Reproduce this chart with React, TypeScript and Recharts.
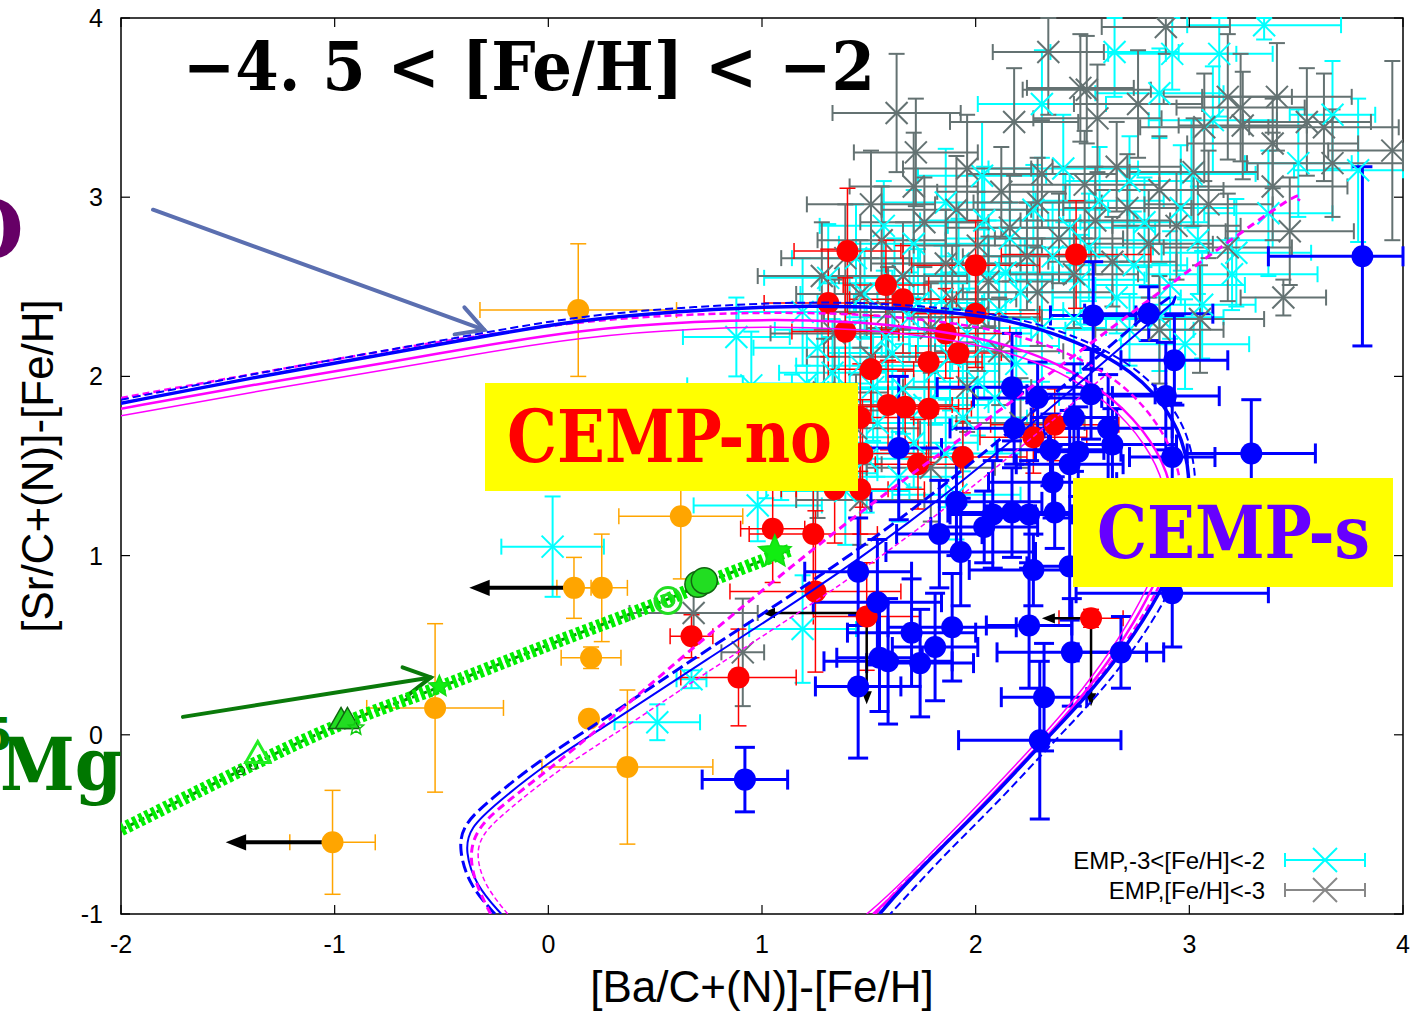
import React from 'react';
import { ScatterChart, Scatter, XAxis, YAxis, ErrorBar, ReferenceLine, ReferenceArea } from 'recharts';

const W = 1427;
const H = 1013;
const PLOT = { left: 121, right: 1403, top: 18, bottom: 914 };
const SANS = "'Liberation Sans', Arial, sans-serif";
const SERIF = "'DejaVu Serif', 'Liberation Serif', serif";

const xTicks = [-2, -1, 0, 1, 2, 3, 4];
const yTicks = [-1, 0, 1, 2, 3, 4];
const X_DOMAIN = [-2, 4];
const Y_DOMAIN = [-1, 4];

// [x, y, xerr, yerr]
const empMid = [
  [3.35, 3.96, 0.36, 0.08], [2.65, 3.81, 0.3, 0.25], [2.92, 3.8, 0.3, 0.2], [3.14, 3.8, 0.25, 0.35],
  [3.51, 3.19, 0.25, 0.3], [3.79, 3.15, 0.3, 0.4], [3.67, 3.46, 0.2, 0.3], [3.37, 2.91, 0.3, 0.35],
  [3.22, 2.69, 0.35, 0.3], [3.2, 2.57, 0.4, 0.2], [3.11, 3.43, 0.3, 0.3], [0.88, 2.22, 0.25, 0.22],
  [0.02, 1.05, 0.24, 0.28], [1.19, 0.59, 0.25, 0.3], [0.51, 0.07, 0.2, 0.1], [0.67, 0.31, 0.07, 0.05],
  [1.86, 2.97, 0.3, 0.3], [2.27, 2.93, 0.35, 0.25], [2.58, 2.98, 0.3, 0.3], [2.96, 2.94, 0.25, 0.35],
  [1.57, 2.84, 0.3, 0.25], [2.04, 2.87, 0.3, 0.3], [2.44, 2.83, 0.4, 0.3], [2.79, 2.86, 0.3, 0.25],
  [1.71, 2.74, 0.35, 0.3], [2.16, 2.77, 0.3, 0.2], [2.53, 2.72, 0.3, 0.3], [3.04, 2.76, 0.35, 0.3],
  [1.44, 2.66, 0.3, 0.3], [1.92, 2.63, 0.35, 0.25], [2.36, 2.67, 0.3, 0.3], [2.74, 2.62, 0.25, 0.3],
  [1.31, 2.55, 0.3, 0.3], [1.62, 2.52, 0.35, 0.25], [2.06, 2.57, 0.3, 0.3], [2.49, 2.54, 0.3, 0.25],
  [2.91, 2.51, 0.35, 0.3], [1.48, 2.46, 0.3, 0.25], [1.84, 2.43, 0.3, 0.3], [2.21, 2.47, 0.35, 0.3],
  [2.66, 2.44, 0.3, 0.2], [1.19, 2.36, 0.3, 0.3], [1.69, 2.33, 0.3, 0.25], [2.11, 2.37, 0.3, 0.3],
  [2.46, 2.32, 0.35, 0.3], [1.41, 2.26, 0.35, 0.3], [1.96, 2.24, 0.3, 0.25], [2.31, 2.27, 0.3, 0.3],
  [1.26, 2.16, 0.3, 0.3], [1.61, 2.13, 0.3, 0.25], [2.04, 2.17, 0.35, 0.3], [1.46, 2.06, 0.3, 0.25],
  [1.81, 2.03, 0.3, 0.3], [2.19, 2.07, 0.3, 0.2], [1.21, 1.96, 0.3, 0.3], [1.66, 1.93, 0.35, 0.25],
  [2.01, 1.97, 0.3, 0.3], [1.36, 1.86, 0.3, 0.3], [1.76, 1.84, 0.3, 0.25], [2.09, 1.88, 0.3, 0.3],
  [1.14, 1.76, 0.3, 0.25], [1.54, 1.74, 0.35, 0.3], [1.94, 1.77, 0.3, 0.3], [1.31, 1.66, 0.3, 0.3],
  [1.71, 1.63, 0.3, 0.25], [1.09, 1.56, 0.3, 0.25], [1.49, 1.54, 0.3, 0.3], [1.86, 1.57, 0.35, 0.3],
  [1.24, 1.46, 0.3, 0.3], [1.64, 1.44, 0.3, 0.25], [1.39, 1.36, 0.3, 0.3], [1.91, 1.34, 0.3, 0.25],
  [2.03, 3.12, 0.3, 0.3], [2.41, 3.16, 0.35, 0.3], [2.72, 3.09, 0.3, 0.25], [3.01, 3.13, 0.3, 0.3],
  [2.31, 3.52, 0.3, 0.3], [2.86, 3.58, 0.3, 0.25], [2.72, 2.26, 0.3, 0.2], [2.98, 2.18, 0.3, 0.25],
  [3.06, 2.4, 0.25, 0.3], [2.86, 2.33, 0.3, 0.3], [0.95, 1.95, 0.3, 0.3], [1.02, 1.62, 0.25, 0.3],
  [0.98, 1.28, 0.3, 0.2], [1.58, 2.22, 0.3, 0.25], [1.88, 2.11, 0.3, 0.3], [1.33, 2.02, 0.25, 0.3],
  [1.73, 2.41, 0.3, 0.3], [2.14, 2.58, 0.3, 0.25], [1.52, 1.94, 0.3, 0.3],
];

const empLow = [
  [2.34, 3.81, 0.26, 0.35], [1.63, 3.47, 0.3, 0.33], [1.72, 3.25, 0.29, 0.3], [2.89, 3.95, 0.3, 0.15],
  [2.49, 3.61, 0.25, 0.3], [2.18, 3.42, 0.3, 0.3], [2.57, 3.44, 0.3, 0.3], [3.18, 3.56, 0.3, 0.35],
  [3.41, 3.56, 0.35, 0.3], [3.24, 3.5, 0.3, 0.3], [3.55, 3.42, 0.3, 0.3], [3.63, 3.39, 0.35, 0.3],
  [3.39, 3.3, 0.4, 0.25], [3.95, 3.26, 0.3, 0.5], [3.67, 3.19, 0.4, 0.3], [3.39, 3.06, 0.35, 0.3],
  [3.47, 2.81, 0.3, 0.3], [3.18, 2.72, 0.3, 0.3], [3.44, 2.44, 0.2, 0.1], [3.07, 3.39, 0.3, 0.3],
  [2.76, 3.52, 0.3, 0.3], [2.52, 3.6, 0.3, 0.3], [3.25, 3.4, 0.3, 0.3], [1.28, 2.56, 0.3, 0.3],
  [0.68, 0.68, 0.3, 0.15], [0.91, 0.46, 0.1, 0.3],
  [1.96, 3.16, 0.3, 0.3], [2.31, 3.13, 0.35, 0.3], [2.66, 3.17, 0.3, 0.25], [3.02, 3.14, 0.3, 0.3],
  [1.71, 3.06, 0.3, 0.3], [2.12, 3.03, 0.3, 0.25], [2.51, 3.07, 0.35, 0.3], [2.86, 3.04, 0.3, 0.3],
  [1.51, 2.96, 0.3, 0.3], [1.91, 2.93, 0.35, 0.3], [2.29, 2.97, 0.3, 0.25], [2.71, 2.94, 0.3, 0.3],
  [3.09, 2.96, 0.3, 0.3], [1.76, 2.86, 0.3, 0.25], [2.16, 2.83, 0.3, 0.3], [2.56, 2.87, 0.35, 0.3],
  [2.94, 2.84, 0.3, 0.3], [1.56, 2.76, 0.3, 0.3], [2.01, 2.73, 0.3, 0.3], [2.39, 2.77, 0.3, 0.25],
  [2.81, 2.74, 0.3, 0.3], [1.39, 2.66, 0.3, 0.3], [1.86, 2.63, 0.35, 0.3], [2.24, 2.67, 0.3, 0.3],
  [2.64, 2.64, 0.3, 0.25], [1.66, 2.56, 0.3, 0.3], [2.06, 2.53, 0.3, 0.25], [2.46, 2.57, 0.3, 0.3],
  [1.46, 2.46, 0.3, 0.3], [1.89, 2.43, 0.3, 0.3], [2.29, 2.47, 0.35, 0.3], [1.59, 2.36, 0.3, 0.25],
  [2.01, 2.33, 0.3, 0.3], [1.34, 2.24, 0.3, 0.3], [1.79, 2.27, 0.3, 0.25], [1.51, 2.11, 0.3, 0.3],
  [2.11, 2.14, 0.3, 0.3], [1.29, 1.91, 0.3, 0.3], [1.96, 1.94, 0.3, 0.25], [1.44, 1.71, 0.3, 0.3],
  [2.21, 1.74, 0.3, 0.25], [1.26, 1.51, 0.3, 0.3], [1.79, 1.49, 0.3, 0.3], [1.46, 1.31, 0.3, 0.25],
  [2.86, 2.26, 0.3, 0.3], [3.05, 2.32, 0.3, 0.3],
];

const cempNo = [
  [1.4, 2.7, 0.25, 0.35], [2.0, 2.62, 0.3, 0.25], [2.47, 2.68, 0.35, 0.3], [1.31, 2.41, 0.3, 0.3],
  [1.58, 2.51, 0.2, 0.25], [1.66, 2.43, 0.25, 0.3], [2.0, 2.35, 0.3, 0.3], [1.39, 2.25, 0.25, 0.3],
  [1.86, 2.24, 0.3, 0.25], [1.92, 2.13, 0.2, 0.2], [1.78, 2.08, 0.25, 0.3], [1.51, 2.04, 0.2, 0.3],
  [1.59, 1.84, 0.3, 0.25], [1.67, 1.83, 0.25, 0.2], [1.78, 1.82, 0.2, 0.3], [1.46, 1.77, 0.25, 0.3],
  [1.47, 1.57, 0.3, 0.3], [1.73, 1.51, 0.2, 0.25], [1.94, 1.55, 0.3, 0.2], [2.27, 1.66, 0.25, 0.2],
  [2.37, 1.73, 0.3, 0.2], [1.34, 1.37, 0.25, 0.3], [1.46, 1.37, 0.3, 0.25], [1.05, 1.15, 0.15, 0.3],
  [1.24, 1.12, 0.3, 0.3], [1.25, 0.8, 0.4, 0.45], [0.67, 0.55, 0.1, 0.12], [0.89, 0.32, 0.27, 0.27],
  [1.49, 0.66, 0.25, 0.3], [2.54, 0.65, 0.15, 0.05],
];

const cempS = [
  [3.81, 2.67, 0.44, 0.5], [2.55, 2.34, 0.2, 0.3], [2.81, 2.35, 0.3, 0.15], [2.93, 2.09, 0.25, 0.25],
  [2.17, 1.94, 0.35, 0.3], [2.29, 1.88, 0.3, 0.2], [2.54, 1.9, 0.3, 0.25], [2.89, 1.89, 0.25, 0.3],
  [2.46, 1.77, 0.2, 0.3], [2.18, 1.71, 0.3, 0.2], [2.62, 1.71, 0.3, 0.3], [1.64, 1.6, 0.2, 0.4],
  [2.35, 1.59, 0.25, 0.2], [2.48, 1.58, 0.2, 0.25], [2.64, 1.62, 0.3, 0.2], [2.92, 1.55, 0.2, 0.3],
  [3.29, 1.57, 0.3, 0.3], [2.44, 1.51, 0.25, 0.3], [2.36, 1.41, 0.3, 0.2], [1.91, 1.3, 0.4, 0.3],
  [1.83, 1.12, 0.2, 0.3], [2.04, 1.16, 0.25, 0.2], [2.08, 1.23, 0.2, 0.3], [2.17, 1.24, 0.3, 0.25],
  [2.25, 1.23, 0.2, 0.3], [2.37, 1.24, 0.3, 0.2], [1.93, 1.02, 0.35, 0.3], [2.27, 0.92, 0.3, 0.2],
  [2.44, 0.94, 0.2, 0.3], [2.92, 0.79, 0.45, 0.3], [1.54, 0.74, 0.3, 0.35], [1.45, 0.91, 0.25, 0.3],
  [1.7, 0.57, 0.3, 0.3], [1.89, 0.6, 0.3, 0.3], [1.81, 0.49, 0.2, 0.3], [2.25, 0.61, 0.2, 0.35],
  [2.45, 0.46, 0.35, 0.3], [1.59, 0.41, 0.3, 0.35], [1.55, 0.43, 0.2, 0.3], [1.74, 0.4, 0.25, 0.3],
  [2.68, 0.46, 0.2, 0.2], [1.45, 0.27, 0.2, 0.4], [2.32, 0.21, 0.2, 0.3], [2.3, -0.03, 0.38, 0.44],
  [0.92, -0.25, 0.2, 0.18],
];

const others = [
  [0.14, 2.37, 0.46, 0.37], [0.62, 1.22, 0.29, 0.35], [0.12, 0.82, 0.08, 0.17], [0.25, 0.82, 0.12, 0.3],
  [0.2, 0.43, 0.14, 0.06], [0.19, 0.09, 0.0, 0.0], [-0.53, 0.15, 0.32, 0.47], [0.37, -0.18, 0.4, 0.43],
  [-1.01, -0.6, 0.2, 0.29],
];

// [x1, y1, x2, y2]
const limitsBold = [[0.12, 0.82, -0.37, 0.82], [-1.01, -0.6, -1.51, -0.6]];
const limitsThin = [
  [1.49, 0.68, 1.0, 0.68], [1.49, 0.68, 1.49, 0.17],
  [2.54, 0.65, 2.31, 0.65], [2.54, 0.65, 2.54, 0.16],
];

// model tracks [x, y]
const blueLoopA = [
  [-2.0, 1.85], [-1.4, 1.99], [-0.69, 2.14], [-0.41, 2.2], [0.15, 2.32], [0.68, 2.37], [1.24, 2.4],
  [1.7, 2.38], [2.12, 2.33], [2.43, 2.22], [2.74, 2.04], [2.94, 1.76], [3.0, 1.5], [3.0, 1.28],
  [2.96, 1.05], [2.87, 0.8], [2.7, 0.48], [2.51, 0.2], [2.3, -0.06], [2.07, -0.36], [1.83, -0.64],
  [1.65, -0.86], [1.55, -1.0],
];
const blueLoopB = [
  [-2.0, 1.87], [-1.4, 2.01], [-0.69, 2.16], [-0.41, 2.22], [0.15, 2.34], [0.68, 2.39], [1.24, 2.42],
  [1.7, 2.4], [2.12, 2.35], [2.45, 2.24], [2.77, 2.05], [2.97, 1.77], [3.03, 1.5], [3.03, 1.27],
  [2.99, 1.04], [2.91, 0.79], [2.74, 0.47], [2.55, 0.19], [2.34, -0.07], [2.11, -0.37], [1.87, -0.65],
  [1.7, -0.87], [1.6, -1.0],
];
const magLoopA = [
  [-2.0, 1.82], [-1.4, 1.95], [-0.69, 2.09], [-0.41, 2.15], [0.15, 2.26], [0.68, 2.31], [1.24, 2.32],
  [1.7, 2.28], [2.1, 2.2], [2.4, 2.07], [2.65, 1.88], [2.83, 1.64], [2.92, 1.4], [2.93, 1.18],
  [2.88, 0.95], [2.78, 0.7], [2.62, 0.4], [2.44, 0.13], [2.24, -0.13], [2.01, -0.42], [1.78, -0.7],
  [1.6, -0.91], [1.52, -1.0],
];
const magLoopB = [
  [-2.0, 1.78], [-1.4, 1.91], [-0.69, 2.05], [-0.41, 2.11], [0.15, 2.22], [0.68, 2.27], [1.24, 2.28],
  [1.7, 2.24], [2.1, 2.16], [2.4, 2.03], [2.63, 1.85], [2.8, 1.62], [2.89, 1.39], [2.9, 1.17],
  [2.85, 0.94], [2.75, 0.69], [2.59, 0.39], [2.41, 0.12], [2.21, -0.14], [1.98, -0.43], [1.75, -0.71],
  [1.57, -0.92], [1.49, -1.0],
];
const magLoopC = [
  [-2.0, 1.88], [-1.4, 2.01], [-0.69, 2.16], [-0.41, 2.21], [0.15, 2.31], [0.68, 2.35], [1.24, 2.36],
  [1.7, 2.33], [2.12, 2.26], [2.43, 2.14], [2.7, 1.96], [2.88, 1.7], [2.96, 1.46], [2.97, 1.24],
  [2.93, 1.02], [2.84, 0.77], [2.67, 0.45], [2.48, 0.17], [2.27, -0.09], [2.04, -0.39], [1.8, -0.67],
  [1.62, -0.88], [1.53, -1.0],
];
const blueDiagA = [
  [-0.25, -1.0], [-0.37, -0.84], [-0.42, -0.64], [-0.4, -0.5], [-0.27, -0.36], [-0.04, -0.14],
  [0.24, 0.07], [0.71, 0.45], [1.18, 0.81], [1.65, 1.2], [2.12, 1.65], [2.58, 2.12], [2.96, 2.51],
  [2.92, 2.4],
];
const blueDiagB = [
  [-0.22, -1.0], [-0.34, -0.84], [-0.39, -0.65], [-0.37, -0.52], [-0.24, -0.38], [-0.01, -0.16],
  [0.27, 0.05], [0.74, 0.42], [1.21, 0.78], [1.68, 1.17], [2.15, 1.62], [2.61, 2.09], [2.93, 2.42],
];
const magDiagA = [
  [-0.27, -1.0], [-0.35, -0.81], [-0.37, -0.64], [-0.32, -0.5], [-0.18, -0.36], [0.06, -0.14],
  [0.37, 0.17], [0.71, 0.52], [1.35, 1.15], [1.88, 1.61], [2.4, 2.06], [2.96, 2.56], [3.54, 3.06],
  [3.51, 2.98],
];
const magDiagB = [
  [-0.19, -1.0], [-0.3, -0.84], [-0.34, -0.67], [-0.31, -0.55], [-0.19, -0.42], [0.04, -0.2],
  [0.32, 0.01], [0.78, 0.38], [1.25, 0.74], [1.72, 1.13], [2.19, 1.58], [2.62, 2.02],
];
const greenTrack = [
  [-2.0, -0.53], [-1.36, -0.15], [-0.97, 0.07], [-0.51, 0.26], [0.01, 0.51], [0.56, 0.75],
  [0.73, 0.85], [1.13, 1.03],
];
const greenTriangles = [[-1.36, -0.11], [-0.97, 0.08], [-0.94, 0.08]];
const greenStars = [[-0.51, 0.27], [-0.9, 0.04], [1.06, 1.02]];
const greenCircles = [[0.7, 0.84], [0.73, 0.86]];
const greenRings = [[0.56, 0.75], [-1.44, -0.2], [-1.38, -0.17]];

// annotation arrows [x1, y1, x2, y2]
const pointerSlate = [-1.85, 2.93, -0.3, 2.26];
const pointerGreen = [-1.71, 0.1, -0.55, 0.32];

// error bars stop at the frame, like the original plot
const toErr = (arr) =>
  arr.map(([x, y, ex, ey]) => ({
    x,
    y,
    ex: [Math.max(0, Math.min(ex, x - X_DOMAIN[0])), Math.max(0, Math.min(ex, X_DOMAIN[1] - x))],
    ey: [Math.max(0, Math.min(ey, y - Y_DOMAIN[0])), Math.max(0, Math.min(ey, Y_DOMAIN[1] - y))],
  }));
const toXY = (arr) => arr.map(([x, y]) => ({ x, y }));

const xMark = (color, r, w) => (p) => (
  <g stroke={color} strokeWidth={w}>
    <line x1={p.cx - r} y1={p.cy - r} x2={p.cx + r} y2={p.cy + r} />
    <line x1={p.cx - r} y1={p.cy + r} x2={p.cx + r} y2={p.cy - r} />
  </g>
);
const dot = (color, r) => (p) => <circle cx={p.cx} cy={p.cy} r={r} fill={color} />;
const none = () => <g />;

const triangle = (p) => {
  const filled = p.index > 0;
  return (
    <polygon
      points={`${p.cx},${p.cy - 13} ${p.cx - 12},${p.cy + 8} ${p.cx + 12},${p.cy + 8}`}
      fill={filled ? '#22dd22' : 'none'}
      stroke={filled ? '#116611' : '#22ee22'}
      strokeWidth={filled ? 1.5 : 3}
    />
  );
};
const star = (p) => {
  const R = p.index === 2 ? 17 : p.index === 1 ? 8 : 11;
  const pts = [];
  for (let i = 0; i < 10; i++) {
    const rr = i % 2 === 0 ? R : R * 0.45;
    const a = -Math.PI / 2 + (i * Math.PI) / 5;
    pts.push(`${p.cx + rr * Math.cos(a)},${p.cy + rr * Math.sin(a)}`);
  }
  const open = p.index === 1;
  return <polygon points={pts.join(' ')} fill={open ? 'none' : '#11ee11'} stroke={open ? '#11cc11' : '#11dd11'} strokeWidth={1.5} />;
};
const ring = (p) => {
  if (p.index === 0) {
    return (
      <g fill="none" stroke="#22dd22" strokeWidth={3}>
        <circle cx={p.cx} cy={p.cy} r={13} />
        <circle cx={p.cx} cy={p.cy} r={6} />
      </g>
    );
  }
  return <circle cx={p.cx} cy={p.cy} r={4} fill="none" stroke="#115511" strokeWidth={1.2} />;
};
const greenDot = (p) => <circle cx={p.cx} cy={p.cy} r={13} fill="#22dd22" stroke="#116611" strokeWidth={1.5} />;

const arrowShape = (color, width, head, filled) => (p) => {
  const { x1, y1, x2, y2 } = p;
  const a = Math.atan2(y2 - y1, x2 - x1);
  const spread = filled ? 0.38 : 0.5;
  const ax = x2 - head * Math.cos(a - spread);
  const ay = y2 - head * Math.sin(a - spread);
  const bx = x2 - head * Math.cos(a + spread);
  const by = y2 - head * Math.sin(a + spread);
  if (filled) {
    const ex = x2 - head * 0.8 * Math.cos(a);
    const ey = y2 - head * 0.8 * Math.sin(a);
    return (
      <g>
        <line x1={x1} y1={y1} x2={ex} y2={ey} stroke={color} strokeWidth={width} />
        <polygon points={`${x2},${y2} ${ax},${ay} ${bx},${by}`} fill={color} />
      </g>
    );
  }
  return (
    <g stroke={color} strokeWidth={width} fill="none" strokeLinecap="round">
      <line x1={x1} y1={y1} x2={x2} y2={y2} />
      <polyline points={`${ax},${ay} ${x2},${y2} ${bx},${by}`} />
    </g>
  );
};

const XTick = (p) => (
  <g>
    <line x1={p.x} x2={p.x} y1={PLOT.bottom} y2={PLOT.bottom - 9} stroke="#000" strokeWidth={1.2} />
    <line x1={p.x} x2={p.x} y1={PLOT.top} y2={PLOT.top + 9} stroke="#000" strokeWidth={1.2} />
    <text x={p.x} y={953} textAnchor="middle" fontSize={25} fontFamily={SANS} fill="#000">
      {p.payload.value}
    </text>
  </g>
);
const YTick = (p) => (
  <g>
    <line x1={PLOT.left} x2={PLOT.left + 9} y1={p.y} y2={p.y} stroke="#000" strokeWidth={1.2} />
    <line x1={PLOT.right} x2={PLOT.right - 9} y1={p.y} y2={p.y} stroke="#000" strokeWidth={1.2} />
    <text x={103} y={p.y + 9} textAnchor="end" fontSize={25} fontFamily={SANS} fill="#000">
      {p.payload.value}
    </text>
  </g>
);

const track = (pts, stroke, width, dash, key) => (
  <Scatter
    key={key}
    data={toXY(pts)}
    shape={none}
    line={{ stroke, strokeWidth: width, strokeDasharray: dash, fill: 'none' }}
    lineJointType="basis"
    isAnimationActive={false}
  />
);

export default function App() {
  return (
    <div style={{ position: 'absolute', left: 0, top: 0, width: W, height: H, background: '#fff' }}>
      <ScatterChart width={W} height={H} margin={{ top: 18, right: 24, bottom: 0, left: 0 }}>
        <XAxis
          type="number"
          dataKey="x"
          domain={X_DOMAIN}
          ticks={xTicks}
          allowDataOverflow
          height={99}
          axisLine={false}
          tickLine={false}
          tick={XTick}
          label={{
            content: () => (
              <text x={762} y={1002} textAnchor="middle" fontSize={44} fontFamily={SANS} fill="#000">
                [Ba/C+(N)]-[Fe/H]
              </text>
            ),
          }}
        />
        <YAxis
          type="number"
          dataKey="y"
          domain={Y_DOMAIN}
          ticks={yTicks}
          allowDataOverflow
          width={121}
          axisLine={false}
          tickLine={false}
          tick={YTick}
          label={{
            content: () => (
              <text
                x={53}
                y={466}
                transform="rotate(-90, 53, 466)"
                textAnchor="middle"
                fontSize={44}
                fontFamily={SANS}
                fill="#000"
              >
                [Sr/C+(N)]-[Fe/H]
              </text>
            ),
          }}
        />
        <ReferenceArea x1={-2} x2={4} y1={-1} y2={4} fill="none" stroke="#000" strokeWidth={1.5} ifOverflow="visible" />

        <Scatter data={toErr(empMid)} shape={xMark('#00ffff', 11, 2)} isAnimationActive={false}>
          <ErrorBar dataKey="ex" direction="x" width={8} stroke="#00ffff" strokeWidth={2} />
          <ErrorBar dataKey="ey" direction="y" width={8} stroke="#00ffff" strokeWidth={2} />
        </Scatter>
        <Scatter data={toErr(empLow)} shape={xMark('#647272', 11, 2)} isAnimationActive={false}>
          <ErrorBar dataKey="ex" direction="x" width={8} stroke="#647272" strokeWidth={2} />
          <ErrorBar dataKey="ey" direction="y" width={8} stroke="#647272" strokeWidth={2} />
        </Scatter>
        <Scatter data={toErr(others)} shape={dot('#ffa500', 11)} isAnimationActive={false}>
          <ErrorBar dataKey="ex" direction="x" width={8} stroke="#ffa500" strokeWidth={1.5} />
          <ErrorBar dataKey="ey" direction="y" width={8} stroke="#ffa500" strokeWidth={1.5} />
        </Scatter>
        <Scatter data={toErr(cempNo)} shape={dot('#ff0000', 11)} isAnimationActive={false}>
          <ErrorBar dataKey="ex" direction="x" width={8} stroke="#ff0000" strokeWidth={1.5} />
          <ErrorBar dataKey="ey" direction="y" width={8} stroke="#ff0000" strokeWidth={1.5} />
        </Scatter>

        {track(magLoopB, '#ff00ff', 1.5, undefined, 'mlb')}
        {track(magLoopA, '#ff00ff', 2.5, undefined, 'mla')}
        {track(magLoopC, '#ff00ff', 2.5, '7 4', 'mlc')}
        {track(blueLoopA, '#0000ff', 3.5, undefined, 'bla')}
        {track(blueLoopB, '#0000ff', 2, '8 4', 'blb')}
        {track(magDiagB, '#ff00ff', 1.5, '5 3', 'mdb')}
        {track(blueDiagB, '#0000ff', 2, undefined, 'bdb')}
        {track(blueDiagA, '#0000ff', 3, '12 5', 'bda')}
        {track(magDiagA, '#ff00ff', 3, '8 5', 'mda')}

        <Scatter data={toErr(cempS)} shape={dot('#0000ff', 11)} isAnimationActive={false}>
          <ErrorBar dataKey="ex" direction="x" width={10} stroke="#0000ff" strokeWidth={3} />
          <ErrorBar dataKey="ey" direction="y" width={10} stroke="#0000ff" strokeWidth={3} />
        </Scatter>

        {track(greenTrack, '#009900', 3, '6 4', 'greenBase')}
        {track(greenTrack, '#00ee00', 13, '4 3', 'green')}
        <Scatter data={toXY(greenRings)} shape={ring} isAnimationActive={false} />
        <Scatter data={toXY(greenTriangles)} shape={triangle} isAnimationActive={false} />
        <Scatter data={toXY(greenStars)} shape={star} isAnimationActive={false} />
        <Scatter data={toXY(greenCircles)} shape={greenDot} isAnimationActive={false} />

        {limitsBold.map(([x1, y1, x2, y2], i) => (
          <ReferenceLine
            key={`lb${i}`}
            segment={[{ x: x1, y: y1 }, { x: x2, y: y2 }]}
            ifOverflow="visible"
            shape={arrowShape('#000', 4, 22, true)}
          />
        ))}
        {limitsThin.map(([x1, y1, x2, y2], i) => (
          <ReferenceLine
            key={`lt${i}`}
            segment={[{ x: x1, y: y1 }, { x: x2, y: y2 }]}
            ifOverflow="visible"
            shape={arrowShape('#000', 2.5, 14, true)}
          />
        ))}
        <ReferenceLine
          segment={[{ x: pointerSlate[0], y: pointerSlate[1] }, { x: pointerSlate[2], y: pointerSlate[3] }]}
          ifOverflow="visible"
          shape={arrowShape('#5b6fb0', 4, 30, false)}
        />
        <ReferenceLine
          segment={[{ x: pointerGreen[0], y: pointerGreen[1] }, { x: pointerGreen[2], y: pointerGreen[3] }]}
          ifOverflow="visible"
          shape={arrowShape('#0a7a0a', 4, 30, false)}
        />
      </ScatterChart>

      <svg width={W} height={H} style={{ position: 'absolute', left: 0, top: 0, pointerEvents: 'none' }}>
        <text x={183} y={90} fontSize={68} fontWeight="bold" fontFamily={SERIF} fill="#000" textLength={692} lengthAdjust="spacingAndGlyphs">
          −4. 5 &lt; [Fe/H] &lt; −2
        </text>
        <rect x={485} y={383} width={373} height={108} fill="#ffff00" />
        <text x={507} y={462} fontSize={72} fontWeight="bold" fontFamily={SERIF} fill="#ff0000" textLength={325} lengthAdjust="spacingAndGlyphs">
          CEMP-no
        </text>
        <rect x={1073} y={478} width={320} height={109} fill="#ffff00" />
        <text x={1097} y={558} fontSize={72} fontWeight="bold" fontFamily={SERIF} fill="#6600ff" textLength={273} lengthAdjust="spacingAndGlyphs">
          CEMP-s
        </text>
        <text x={-46} y={258} fontSize={80} fontWeight="bold" fontFamily={SERIF} fill="#660066">O</text>
        <text x={-18} y={750} fontSize={44} fontWeight="bold" fontFamily={SERIF} fill="#007700">5</text>
        <text x={0} y={790} fontSize={72} fontWeight="bold" fontFamily={SERIF} fill="#007700" textLength={122} lengthAdjust="spacingAndGlyphs">
          Mg
        </text>

        <text x={1265} y={869} textAnchor="end" fontSize={24} fontFamily={SANS} fill="#000">EMP,-3&lt;[Fe/H]&lt;-2</text>
        <g stroke="#00ffff" strokeWidth={2}>
          <line x1={1285} x2={1365} y1={860} y2={860} />
          <line x1={1285} x2={1285} y1={853} y2={867} />
          <line x1={1365} x2={1365} y1={853} y2={867} />
          <line x1={1313} x2={1337} y1={848} y2={872} />
          <line x1={1313} x2={1337} y1={872} y2={848} />
        </g>
        <text x={1265} y={899} textAnchor="end" fontSize={24} fontFamily={SANS} fill="#000">EMP,[Fe/H]&lt;-3</text>
        <g stroke="#888888" strokeWidth={2}>
          <line x1={1285} x2={1365} y1={890} y2={890} />
          <line x1={1285} x2={1285} y1={883} y2={897} />
          <line x1={1365} x2={1365} y1={883} y2={897} />
          <line x1={1313} x2={1337} y1={878} y2={902} />
          <line x1={1313} x2={1337} y1={902} y2={878} />
        </g>
      </svg>
    </div>
  );
}
